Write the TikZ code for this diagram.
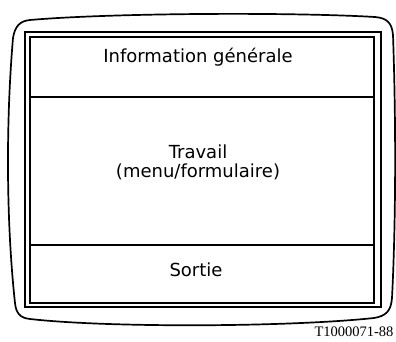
\documentclass[tikz,border=0pt]{standalone}
\usepackage{fontspec}
\setmainfont{DejaVu Sans}
\newfontfamily\labelfont{Liberation Serif}
\usetikzlibrary{calc,positioning}

\begin{document}
\begin{tikzpicture}[x=1pt,y=-1pt,
  screenline/.style={line width=1.7pt,black},
  zonetext/.style={font=\fontsize{18}{19}\selectfont,align=center,inner sep=0pt}]
\useasboundingbox (0,0) rectangle (396,342);
% outer casing of the screen
\draw[screenline] (30,20) .. controls (110,13) and (290,12) .. (375,17)
  .. controls (387,18) and (392,23) .. (393,35)
  .. controls (396,120) and (396,220) .. (392,298)
  .. controls (391,311) and (386,316) .. (374,318)
  .. controls (290,327) and (110,328) .. (30,319)
  .. controls (20,318) and (16,313) .. (15,303)
  .. controls (6,220) and (6,120) .. (13,38)
  .. controls (15,26) and (20,21) .. (30,20);
% double frame
\coordinate (NW) at (30,37);
\coordinate (SE) at (374,303);
\draw[screenline] (25,32) rectangle (381,307);
\draw[screenline] (NW) rectangle (SE);
\draw[screenline] (30,97) coordinate(D1) -- (374,97);
\draw[screenline] (30,245) coordinate(D2) -- (374,245);
\node[zonetext] (info) at (198,57) {Information générale};
\node[zonetext] (work) at (198,162) {Travail\\(menu/formulaire)};
\node[zonetext] (exit) at (196,270) {Sortie};
\node[font=\labelfont\fontsize{14.5}{15}\selectfont,inner sep=0pt] (ref) at (354,332) {T1000071-88};
\end{tikzpicture}
\end{document}
